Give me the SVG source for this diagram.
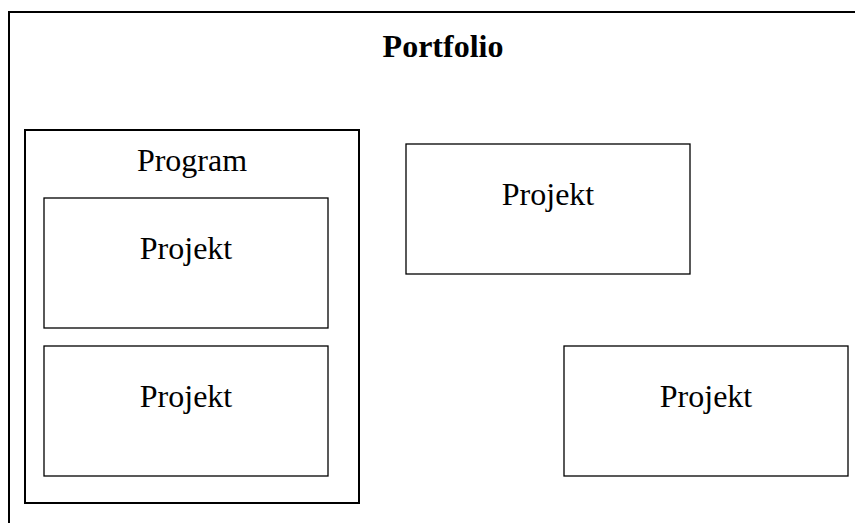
<svg xmlns="http://www.w3.org/2000/svg" width="855" height="523" viewBox="0 0 855 523">
  <style>
    .frame { fill: none; stroke: #000; stroke-width: 2; }
    .box { fill: #fff; stroke: #000; stroke-width: 1.3; }
    .label { font-family: "Liberation Serif", "Times New Roman", serif; font-size: 32px; fill: #000; text-anchor: middle; }
    .title { font-weight: bold; }
  </style>
  <rect width="855" height="523" fill="#fff"/>

  <!-- Portfolio frame: open on the right and bottom -->
  <g id="portfolio">
    <path class="frame" d="M9 523 V12 H855"/>
    <text class="label title" x="443" y="57">Portfolio</text>
  </g>

  <!-- Program container with two projects -->
  <g id="program">
    <rect class="frame" x="25" y="130" width="334" height="373"/>
    <text class="label" x="192" y="171">Program</text>
  </g>
  <g id="program-projekt-1">
    <rect class="box" x="44" y="198" width="284" height="130"/>
    <text class="label" x="186" y="259">Projekt</text>
  </g>
  <g id="program-projekt-2">
    <rect class="box" x="44" y="346" width="284" height="130"/>
    <text class="label" x="186" y="407">Projekt</text>
  </g>

  <!-- Standalone projects -->
  <g id="projekt-a">
    <rect class="box" x="406" y="144" width="284" height="130"/>
    <text class="label" x="548" y="205">Projekt</text>
  </g>
  <g id="projekt-b">
    <rect class="box" x="564" y="346" width="284" height="130"/>
    <text class="label" x="706" y="407">Projekt</text>
  </g>
</svg>
